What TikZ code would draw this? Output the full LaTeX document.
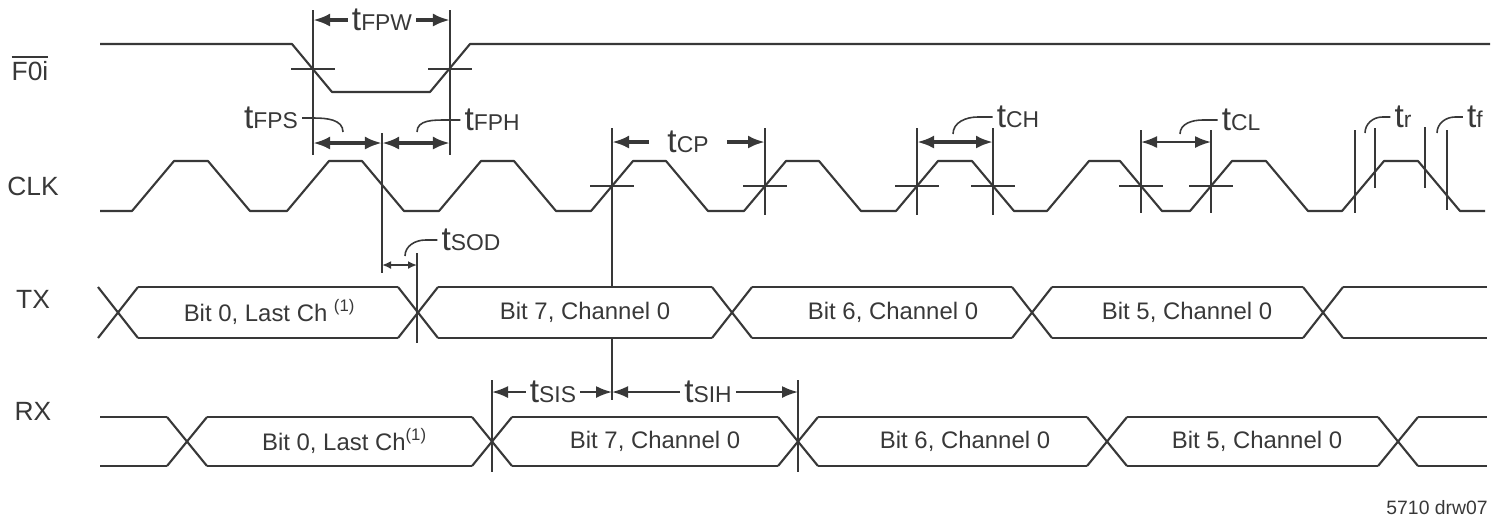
\documentclass[tikz,border=0pt]{standalone}
\usepackage{fontspec}
\setmainfont{Liberation Sans}
\usetikzlibrary{arrows.meta,positioning}

\newcommand{\tlab}[1]{{\fontsize{9.5}{10}\selectfont t}{\fontsize{6.5}{7}\selectfont #1}}

\begin{document}
\begin{tikzpicture}[x=0.01cm,y=-0.01cm,font=\fontsize{6.8}{8}\selectfont,color=black!78,
  sig/.style={line width=0.6pt,line join=round},
  refl/.style={line width=0.5pt},
  crossmark/.style={line width=0.5pt},
  leader/.style={line width=0.45pt},
  tlabel/.style={inner sep=1pt},
  sname/.style={font=\fontsize{7.5}{9}\selectfont},
  dimthick/.style={line width=1.1pt,-{Latex[length=1.7mm,width=1.3mm]}},
  dimboth/.style={line width=1.1pt,{Latex[length=1.7mm,width=1.3mm]}-{Latex[length=1.7mm,width=1.3mm]}},
  dimthin/.style={line width=0.55pt,-{Latex[length=1.6mm,width=1.2mm]}},
  dimthinboth/.style={line width=0.55pt,{Latex[length=1.6mm,width=1.2mm]}-{Latex[length=1.6mm,width=1.2mm]}},
  dimsmall/.style={line width=0.5pt,{Latex[length=0.9mm,width=0.8mm]}-{Latex[length=0.9mm,width=0.8mm]}}]
\useasboundingbox (0,0) rectangle (1501,523);

\node[sname] (nfoi) at (30,68) {$\overline{\mbox{F0i}}$};
\node[sname] (nclk) at (33,186) {CLK};
\node[sname] (ntx) at (33,299) {TX};
\node[sname] (nrx) at (33,411) {RX};

\draw[sig] (100,44) -- (292,44) -- (332,92) -- (430,92) -- (470,44) -- (1490,44);
\draw[sig] (100,211) \foreach \r/\f in {153/229,308/383,460/535,612/687,765/840,917/993,1068/1141,1211/1287,1363/1439} { -- (\r-21,211) -- (\r+21,161) -- (\f-21,161) -- (\f+21,211) } -- (1485,211);

\foreach \c in {118,418,732,1032,1323}
  \draw[sig] (\c-20,287) -- (\c+20,338) (\c-20,338) -- (\c+20,287);
\foreach \a/\b in {118/418,418/732,732/1032,1032/1323,1323/1507}
  \draw[sig] (\a+20,287) -- (\b-20,287) (\a+20,338) -- (\b-20,338);
\foreach \c in {187,492,798,1107,1398}
  \draw[sig] (\c-20,417) -- (\c+20,466) (\c-20,466) -- (\c+20,417);
\foreach \a/\b in {80/187,187/492,492/798,798/1107,1107/1398,1398/1507}
  \draw[sig] (\a+20,417) -- (\b-20,417) (\a+20,466) -- (\b-20,466);

\node (tx0) at (270,312) {Bit 0, Last Ch \textsuperscript{(1)}};
\node (tx7) at (585,312) {Bit 7, Channel 0};
\node (tx6) at (893,312) {Bit 6, Channel 0};
\node (tx5) at (1187,312) {Bit 5, Channel 0};
\node (rx0) at (345,441) {Bit 0, Last Ch\textsuperscript{(1)}};
\node (rx7) at (655,441) {Bit 7, Channel 0};
\node (rx6) at (965,441) {Bit 6, Channel 0};
\node (rx5) at (1257,441) {Bit 5, Channel 0};

\draw[refl] (313,10) -- (313,155) (450,10) -- (450,155);
\draw[refl] (382,133) -- (382,273);
\draw[refl] (417,253) -- (417,343);
\draw[refl] (612,128) -- (612,287) (612,338) -- (612,400);
\foreach \x in {765,917,993} \draw[refl] (\x,128) -- (\x,215);
\foreach \x in {1141,1211} \draw[refl] (\x,130) -- (\x,213);
\draw[refl] (1355,130) -- (1355,213) (1375,128) -- (1375,188) (1425,127) -- (1425,188) (1447,130) -- (1447,210);
\draw[refl] (492,380) -- (492,472) (798,380) -- (798,472);

\foreach \x in {313,450} \draw[crossmark] (\x-22,69) -- (\x+22,69);
\foreach \x in {612,765,917,993,1141,1211} \draw[crossmark] (\x-22,186) -- (\x+22,186);

\coordinate (fpwl) at (313,20);
\coordinate (fpwr) at (450,20);
\coordinate (fpsl) at (313,143);
\coordinate (fpsm) at (382,143);
\coordinate (fphr) at (450,143);
\coordinate (cpl) at (612,142);
\coordinate (cpr) at (765,142);
\coordinate (chl) at (917,142);
\coordinate (chr) at (993,142);
\coordinate (cll) at (1141,142);
\coordinate (clr) at (1211,142);
\coordinate (sodl) at (382,265);
\coordinate (sodr) at (417,265);
\coordinate (sisl) at (492,392);
\coordinate (sism) at (612,392);
\coordinate (sihr) at (798,392);

\node[tlabel] (fpw) at (382,20) {\tlab{FPW}};
\draw[dimthick] (fpw.west) -- (fpwl);
\draw[dimthick] (fpw.east) -- (fpwr);
\draw[dimboth] (fpsl) -- (fpsm);
\draw[dimboth] (fpsm) -- (fphr);
\node[tlabel] (fps) at (271,118) {\tlab{FPS}};
\draw[leader] (fps.east) -- ++(12,0) to[out=0,in=90] (343,132);
\node[tlabel] (fph) at (492,120) {\tlab{FPH}};
\draw[leader] (fph.west) -- ++(-14,0) to[out=180,in=90] (417,132);

\node[tlabel] (cp) at (688,142) {\tlab{CP}};
\draw[dimthick,shorten <=4pt] (cp.west) -- (cpl);
\draw[dimthick,shorten <=4pt] (cp.east) -- (cpr);
\draw[dimboth] (chl) -- (chr);
\node[tlabel] (ch) at (1018,117) {\tlab{CH}};
\draw[leader] (ch.west) -- ++(-15,0) to[out=180,in=90] (953,134);
\draw[dimthinboth] (cll) -- (clr);
\node[tlabel] (cl) at (1241,120) {\tlab{CL}};
\draw[leader] (cl.west) -- ++(-15,0) to[out=180,in=90] (1180,134);
\node[tlabel] (tr) at (1403,117) {\tlab{r}};
\draw[leader] (tr.west) -- ++(-8,0) to[out=180,in=90] (1365,133);
\node[tlabel] (tf) at (1475,117) {\tlab{f}};
\draw[leader] (tf.west) -- ++(-8,0) to[out=180,in=90] (1437,133);

\draw[dimsmall] (sodl) -- (sodr);
\node[tlabel] (sod) at (471,240) {\tlab{SOD}};
\draw[leader] (sod.west) -- ++(-12,0) to[out=180,in=90] (405,256);

\node[tlabel] (sis) at (553,392) {\tlab{SIS}};
\draw[dimthin] (sis.west) -- (sisl);
\draw[dimthin] (sis.east) -- (sism);
\node[tlabel] (sih) at (708,392) {\tlab{SIH}};
\draw[dimthin] (sih.west) -- (sism);
\draw[dimthin] (sih.east) -- (sihr);

\node[font=\fontsize{5.5}{6}\selectfont] (drw) at (1437,508) {5710 drw07};
\end{tikzpicture}
\end{document}
